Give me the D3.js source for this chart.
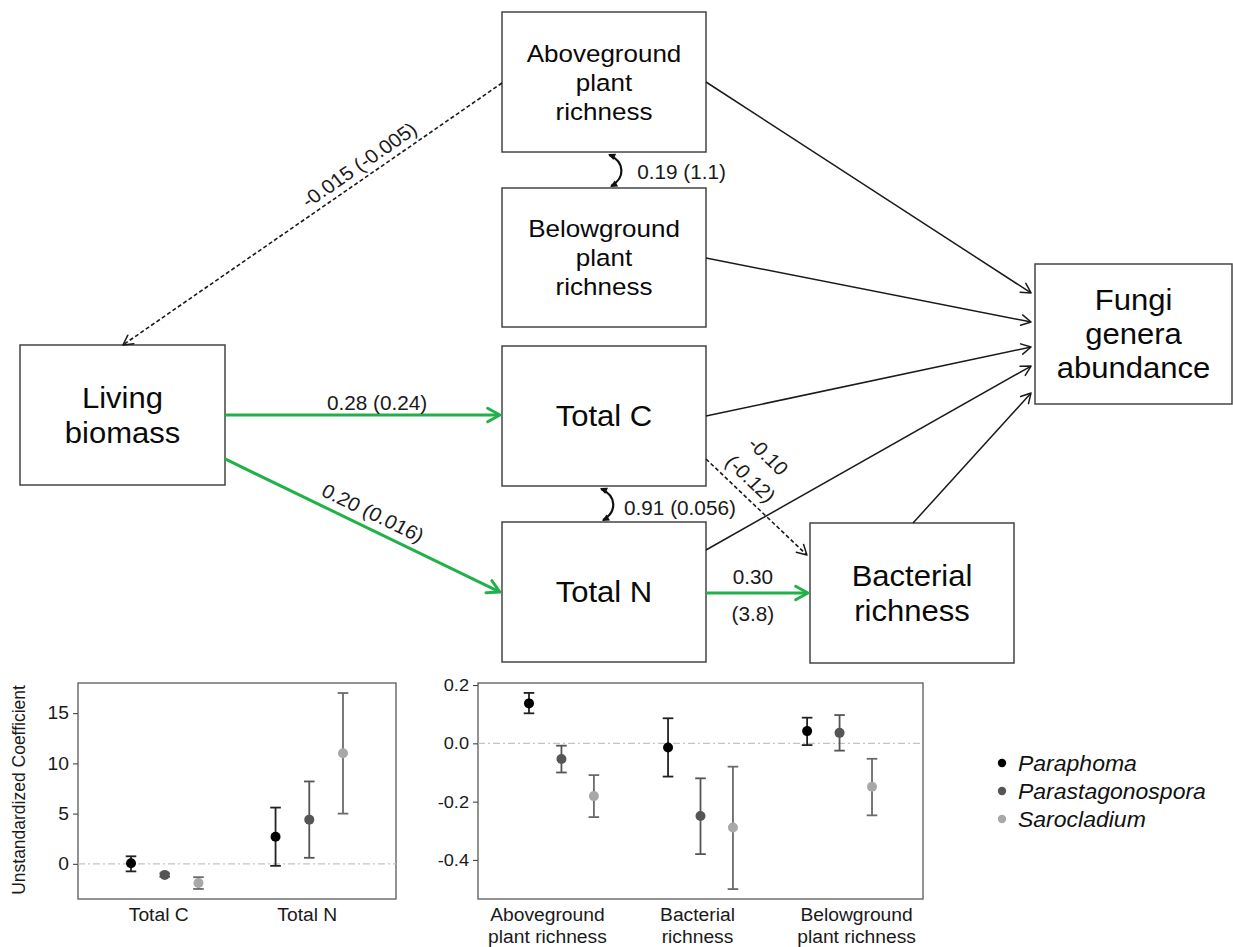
<!DOCTYPE html>
<html><head><meta charset="utf-8">
<script src="https://cdn.jsdelivr.net/npm/d3@7"></script>
<style>
body{margin:0;background:#fff}
text{font-family:"Liberation Sans",Arial,Helvetica,sans-serif}
</style>
</head><body>
<svg id="c" width="1233" height="947"></svg>
<script>
// ---------------- DATA ----------------
// SEM diagram
const nodeIds    = ["above","below","totC","totN","bact","fungi","living"];
const nodeLabels = [["Aboveground","plant","richness"],["Belowground","plant","richness"],["Total C"],["Total N"],["Bacterial","richness"],["Fungi","genera","abundance"],["Living","biomass"]];
const pathFrom  = ["above","living","living","totC","totN","above","below","totC","totN","bact"];
const pathTo    = ["living","totC","totN","bact","bact","fungi","fungi","fungi","fungi","fungi"];
const pathStd   = ["-0.015","0.28","0.20","-0.10","0.30",null,null,null,null,null];
const pathUnstd = ["(-0.005)","(0.24)","(0.016)","(-0.12)","(3.8)",null,null,null,null,null];
const pathKind  = ["neg","pos","pos","neg","pos","ns","ns","ns","ns","ns"];
const covFrom   = ["above","totC"];
const covTo     = ["below","totN"];
const covStd    = ["0.19","0.91"];
const covUnstd  = ["(1.1)","(0.056)"];
// coefficient plots
const species = ["Paraphoma","Parastagonospora","Sarocladium"];
const leftCats = [["Total C"],["Total N"]];
const leftEst = [[0.05,-1.1,-1.9],[2.7,4.4,11.0]];
const leftLo  = [[-0.75,-1.28,-2.5],[-0.2,0.6,5.0]];
const leftHi  = [[0.75,-0.95,-1.33],[5.6,8.2,17.0]];
const leftTicks = [0,5,10,15];
const rightCats = [["Aboveground","plant richness"],["Bacterial","richness"],["Belowground","plant richness"]];
const rightEst = [[0.137,-0.054,-0.181],[-0.014,-0.249,-0.289],[0.042,0.036,-0.149]];
const rightLo  = [[0.103,-0.100,-0.253],[-0.114,-0.380,-0.500],[-0.006,-0.025,-0.247]];
const rightHi  = [[0.173,-0.008,-0.109],[0.086,-0.120,-0.080],[0.088,0.097,-0.053]];
const rightTicks = [0.2,0.0,-0.2,-0.4];
const yTitle = "Unstandardized Coefficient";

// ---------------- LAYOUT / STYLE ----------------
const SX = 1.07; // horizontal stretch of the original figure's text
const layout = {
  above:{x:502,y:12,w:204,h:140,fs:24.3,lh:29},
  below:{x:502,y:188,w:204,h:139,fs:24.3,lh:29},
  totC:{x:502,y:346,w:204,h:140,fs:29,lh:35},
  totN:{x:502,y:522,w:204,h:140,fs:29,lh:35},
  bact:{x:810,y:523,w:204,h:140,fs:29,lh:35},
  fungi:{x:1035,y:264,w:197,h:140,fs:29,lh:34},
  living:{x:20,y:345,w:205,h:140,fs:29,lh:35}
};
const edgeGeom = [
  {fa:[0,0.507], ta:[0.502,0], labs:[{t:0.356,off:14,join:true}]},
  {fa:[1,0.5], ta:[-0.01,0.493], labs:[{t:0.553,off:12,join:true}]},
  {fa:[1,0.814], ta:[-0.01,0.5], labs:[{t:0.513,off:15.8,join:true}]},
  {fa:[1,0.807], ta:[-0.015,0.229], labs:[{t:0.31,off:45},{t:0.33,off:16.5}]},
  {fa:[1,0.507], ta:[-0.01,0.5], labs:[{t:0.46,off:16},{t:0.46,off:-21}]},
  {fa:[1,0.5], ta:[-0.02,0.207]},
  {fa:[1,0.504], ta:[-0.02,0.414]},
  {fa:[1,0.5], ta:[-0.02,0.593]},
  {fa:[1,0.2], ta:[-0.02,0.729]},
  {fa:[0.505,0], ta:[-0.02,0.921]}
];
const covGeom = [{xf:0.54, ldx:25, ldy:2},{xf:0.5, ldx:20, ldy:4}];
const green = "#21b14b", ink = "#1a1a1a";
const ptColors = ["#000000","#555555","#a8a8a8"];
const barColors = ["#222222","#555555","#6a6a6a"];

const svg = d3.select("#c");

function label(g, x, y, str, fs, opts={}) {
  const rot = opts.rot || 0;
  let rp = rot;
  if (Math.abs(rot) !== 90) rp = Math.atan(Math.tan(rot*Math.PI/180)*SX)*180/Math.PI;
  return g.append("text")
    .attr("transform", `translate(${x},${y}) scale(${SX},1) rotate(${rp})`)
    .attr("text-anchor", opts.anchor || "middle")
    .attr("dy", "0.35em")
    .attr("font-size", fs)
    .attr("fill", opts.fill || "#0a0a0a")
    .attr("font-style", opts.italic ? "italic" : "normal")
    .text(str);
}

// ---------------- SEM DIAGRAM ----------------
const dg = svg.append("g");
nodeIds.forEach((id,i) => {
  const L = layout[id];
  dg.append("rect").attr("x",L.x).attr("y",L.y).attr("width",L.w).attr("height",L.h)
    .attr("fill","#fff").attr("stroke","#444").attr("stroke-width",1.5);
  const lines = nodeLabels[i];
  const cy = L.y + L.h/2;
  lines.forEach((s,k) => {
    label(dg, L.x + L.w/2, cy + (k - (lines.length-1)/2)*L.lh, s, L.fs);
  });
});

function anchor(id, f) { const L = layout[id]; return [L.x + f[0]*L.w, L.y + f[1]*L.h]; }
function head(g, tip, ang, len, half, color, w) {
  const a1 = ang + Math.PI - half, a2 = ang + Math.PI + half;
  const p1 = [tip[0]+len*Math.cos(a1), tip[1]+len*Math.sin(a1)];
  const p2 = [tip[0]+len*Math.cos(a2), tip[1]+len*Math.sin(a2)];
  g.append("path").attr("d", `M${p1[0]},${p1[1]}L${tip[0]},${tip[1]}L${p2[0]},${p2[1]}`)
    .attr("fill","none").attr("stroke",color).attr("stroke-width",w).attr("stroke-linejoin","round").attr("stroke-linecap","round");
}

pathFrom.forEach((f,i) => {
  const G = edgeGeom[i];
  const a = anchor(f, G.fa), b = anchor(pathTo[i], G.ta);
  const kind = pathKind[i];
  const col = kind === "pos" ? green : ink;
  const w = kind === "pos" ? 3 : (kind === "neg" ? 1.6 : 1.5);
  const ang = Math.atan2(b[1]-a[1], b[0]-a[0]);
  const ln = dg.append("line").attr("x1",a[0]).attr("y1",a[1]).attr("x2",b[0]-Math.cos(ang)*1).attr("y2",b[1]-Math.sin(ang)*1)
    .attr("stroke",col).attr("stroke-width",w);
  if (kind === "neg") ln.attr("stroke-dasharray","4,2.5");
  head(dg, b, ang, kind === "pos" ? 14 : 11, 0.5, col, kind === "pos" ? 3 : 1.5);
  if (G.labs && pathStd[i]) {
    const len = Math.hypot(b[0]-a[0], b[1]-a[1]);
    const d = [(b[0]-a[0])/len, (b[1]-a[1])/len];
    let n = [d[1], -d[0]]; if (n[1] > 0 || (n[1] === 0 && n[0] > 0)) n = [-n[0], -n[1]];
    let vis = ang*180/Math.PI; if (vis > 90) vis -= 180; if (vis < -90) vis += 180;
    const texts = G.labs[0].join ? [pathStd[i] + " " + pathUnstd[i]] : [pathStd[i], pathUnstd[i]];
    texts.forEach((s,k) => {
      const P = G.labs[k];
      const cx = a[0] + d[0]*P.t*len + n[0]*P.off;
      const cy = a[1] + d[1]*P.t*len + n[1]*P.off;
      label(dg, cx, cy, s, 19.4, {rot: vis, fill: ink});
    });
  }
});

// covariances (double-headed curved arrows)
function filledHead(g, tip, ang, len, half) {
  const a1 = ang + Math.PI - half, a2 = ang + Math.PI + half;
  g.append("path").attr("d", `M${tip[0]},${tip[1]}L${tip[0]+len*Math.cos(a1)},${tip[1]+len*Math.sin(a1)}L${tip[0]+len*Math.cos(a2)},${tip[1]+len*Math.sin(a2)}Z`)
    .attr("fill","#111");
}
covFrom.forEach((f,i) => {
  const A = layout[f], B = layout[covTo[i]], C = covGeom[i];
  const cx = A.x + C.xf*A.w, top = A.y + A.h, bot = B.y;
  const s = [cx-3, top+3], c1 = [cx+13, top+10], c2 = [cx+13, bot-10], e = [cx-1, bot-2];
  dg.append("path").attr("d", `M${s}C${c1} ${c2} ${e}`).attr("fill","none").attr("stroke","#111").attr("stroke-width",2.2);
  filledHead(dg, [s[0]-1, s[1]-1], Math.atan2(s[1]-c1[1], s[0]-c1[0]), 8, 0.45);
  filledHead(dg, [e[0]-1, e[1]+1], Math.atan2(e[1]-c2[1], e[0]-c2[0]), 8, 0.45);
  label(dg, cx + C.ldx, (top+bot)/2 + C.ldy, covStd[i] + " " + covUnstd[i], 19.4, {anchor:"start", fill: ink});
});

// ---------------- COEFFICIENT PLOTS ----------------
const dodge = [-0.7/3, 0, 0.7/3];
function coefPanel(box, cats, est, lo, hi, ticks, ydom, fmt, tickFs, nudges) {
  const g = svg.append("g");
  const x = d3.scaleLinear().domain([0.4, cats.length + 0.6]).range([box.x0, box.x1]);
  const y = d3.scaleLinear().domain(ydom).range([box.y1, box.y0]);
  g.append("rect").attr("x",box.x0).attr("y",box.y0).attr("width",box.x1-box.x0).attr("height",box.y1-box.y0)
    .attr("fill","#fff").attr("stroke","#5a5a5a").attr("stroke-width",1.3);
  g.append("line").attr("x1",box.x0).attr("x2",box.x1).attr("y1",y(0)).attr("y2",y(0))
    .attr("stroke","#c4c4c4").attr("stroke-width",1.2).attr("stroke-dasharray","7,3,2,3");
  const ax = g.append("g").attr("transform",`translate(${box.x0},0)`)
    .call(d3.axisLeft(y).tickValues(ticks).tickSize(5).tickPadding(4).tickFormat(fmt));
  ax.select(".domain").remove();
  ax.selectAll(".tick line").attr("stroke","#444").attr("stroke-width",1.1);
  ax.selectAll(".tick text").attr("font-size",tickFs).attr("fill","#1a1a1a")
    .attr("font-family","'Liberation Sans',Arial,sans-serif")
    .attr("x", -9/SX).attr("transform",`scale(${SX},1)`);
  cats.forEach((c,ci) => {
    species.forEach((sp,si) => {
      const px = x(ci+1+dodge[si]);
      g.append("line").attr("x1",px).attr("x2",px).attr("y1",y(lo[ci][si])).attr("y2",y(hi[ci][si]))
        .attr("stroke",barColors[si]).attr("stroke-width",1.8);
      [lo[ci][si], hi[ci][si]].forEach(v => {
        g.append("line").attr("x1",px-5.3).attr("x2",px+5.3).attr("y1",y(v)).attr("y2",y(v))
          .attr("stroke",barColors[si]).attr("stroke-width",1.8);
      });
      g.append("circle").attr("cx",px).attr("cy",y(est[ci][si])).attr("r",5).attr("fill",ptColors[si]);
    });
    c.forEach((s,k) => {
      label(g, x(ci+1) + nudges[ci], 915 + k*22, s, 18, {fill:"#1a1a1a"});
    });
  });
  return g;
}
coefPanel({x0:78,x1:396,y0:683,y1:899}, leftCats, leftEst, leftLo, leftHi, leftTicks, [-3.5,18.0], d => String(d), 18, [-6,-2]);
coefPanel({x0:478,x1:923,y0:683,y1:899}, rightCats, rightEst, rightLo, rightHi, rightTicks, [-0.534,0.207], d => d.toFixed(1), 17, [-14,-3,17]);
label(svg, 18, 790, yTitle, 17.5, {rot:-90, fill:"#1a1a1a"});

// legend
const lg = svg.append("g");
species.forEach((sp,i) => {
  const yy = 763 + i*28;
  lg.append("circle").attr("cx",1002).attr("cy",yy).attr("r",4.2).attr("fill",ptColors[i]);
  label(lg, 1018, yy, sp, 21.5, {anchor:"start", italic:true, fill:"#111"});
});
</script>
</body></html>
